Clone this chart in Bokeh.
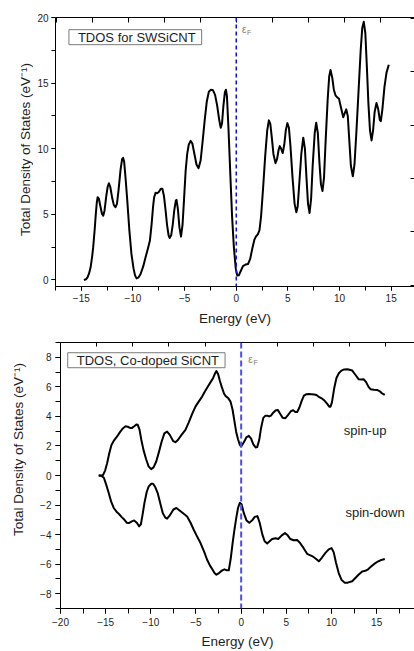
import math
from bokeh.plotting import figure
from bokeh.models import (Range1d, LinearAxis, SingleIntervalTicker, Span, Label)
from bokeh.layouts import column, row
from bokeh.embed import file_html
from bokeh.resources import INLINE

FONT = "Liberation Sans"
TXT = "#1e1e1e"

# ---------------- data: TDOS for SWSiCNT ----------------
sw_energy = [-14.75, -14.55, -14.4, -14.25, -14.1, -13.95, -13.85, -13.7, -13.6, -13.5,
             -13.42, -13.3, -13.15, -13.0, -12.88, -12.75, -12.6, -12.45, -12.33, -12.2,
             -12.0, -11.85, -11.7, -11.55, -11.4, -11.2, -11.05, -10.95, -10.85, -10.7,
             -10.55, -10.35, -10.15, -9.95, -9.8, -9.65, -9.45, -9.26, -9.0, -8.78,
             -8.55, -8.36, -8.2, -8.05, -7.95, -7.8, -7.65, -7.5, -7.3, -7.15,
             -7.0, -6.84, -6.7, -6.55, -6.45, -6.3, -6.15, -6.0, -5.85, -5.78,
             -5.65, -5.5, -5.35, -5.2, -5.05, -4.9, -4.75, -4.6, -4.42, -4.25,
             -4.05, -3.85, -3.65, -3.45, -3.25, -3.05, -2.85, -2.65, -2.45, -2.25,
             -2.05, -1.85, -1.65, -1.5, -1.38, -1.25, -1.1, -1.0, -0.9, -0.75,
             -0.55, -0.4, -0.23, -0.05, 0.1, 0.25, 0.45, 0.65, 0.9, 1.15,
             1.35, 1.55, 1.75, 1.9, 2.1, 2.25, 2.4, 2.6, 2.8, 3.0,
             3.16, 3.3, 3.45, 3.6, 3.8, 3.95, 4.1, 4.22, 4.35, 4.5,
             4.65, 4.8, 4.95, 5.1, 5.25, 5.45, 5.65, 5.82, 5.95, 6.1,
             6.3, 6.49, 6.65, 6.8, 6.95, 7.1, 7.25, 7.4, 7.6, 7.74,
             7.9, 8.05, 8.2, 8.35, 8.5, 8.65, 8.85, 9.0, 9.13, 9.3,
             9.45, 9.61, 9.8, 9.95, 10.15, 10.36, 10.5, 10.65, 10.8, 10.95,
             11.1, 11.29, 11.45, 11.65, 11.85, 12.05, 12.2, 12.35, 12.5, 12.65,
             12.8, 12.95, 13.1, 13.25, 13.4, 13.58, 13.75, 13.9, 14.0, 14.15,
             14.35, 14.55, 14.77]
sw_tdos = [0.0, 0.05, 0.2, 0.5, 0.96, 1.8, 2.5, 3.9, 5.0, 5.9,
           6.3, 6.2, 5.6, 5.05, 4.9, 5.3, 6.3, 7.1, 7.37, 7.1,
           6.2, 5.7, 5.54, 5.8, 6.8, 8.4, 9.2, 9.3, 9.0, 7.6,
           6.05, 3.8, 2.0, 0.9, 0.35, 0.12, 0.2, 0.45, 1.05, 1.72,
           2.4, 3.0, 4.2, 5.6, 6.3, 6.65, 6.6, 6.7, 6.95, 6.95,
           6.4, 5.3, 4.2, 3.4, 3.2, 3.4, 4.2, 5.3, 6.05, 6.1,
           5.4, 4.0, 3.3, 4.2, 6.2, 8.3, 9.6, 10.3, 10.6, 10.4,
           9.6, 8.8, 8.52, 9.1, 10.6, 12.2, 13.6, 14.35, 14.5, 14.45,
           14.1, 13.3, 12.2, 11.6, 11.9, 13.2, 14.3, 14.5, 14.0, 11.5,
           7.6, 4.8, 2.5, 0.9, 0.33, 0.35, 0.7, 1.05, 1.17, 1.22,
           1.6, 2.37, 3.05, 3.3, 3.5, 3.8, 4.8, 7.0, 9.4, 11.4,
           12.16, 11.9, 10.8, 9.6, 8.9, 9.2, 9.9, 10.2, 10.0, 9.67,
           10.3, 11.4, 11.95, 11.6, 10.2, 7.8, 5.8, 5.16, 5.6, 7.3,
           9.6, 10.84, 10.0, 7.8, 5.8, 5.1, 6.2, 8.7, 11.2, 11.98,
           11.2, 9.0, 7.3, 6.77, 7.8, 10.5, 13.7, 15.5, 16.0, 15.4,
           14.5, 14.07, 13.9, 13.8, 13.1, 12.4, 12.7, 13.0, 12.5, 10.6,
           8.7, 7.9, 8.8, 11.5, 14.5, 17.5, 19.2, 19.67, 18.8, 16.2,
           13.4, 11.4, 10.63, 11.4, 12.8, 13.48, 13.0, 12.2, 12.1, 13.0,
           14.7, 15.8, 16.4]

# ---------------- data: TDOS, Co-doped SiCNT ----------------
up_energy = [-15.77, -15.5, -15.3, -15.05, -14.84, -14.6, -14.36, -14.05, -13.73, -13.4,
             -13.07, -12.8, -12.56, -12.3, -12.08, -11.8, -11.6, -11.45, -11.25, -11.05,
             -10.8, -10.52, -10.25, -9.97, -9.7, -9.4, -9.1, -8.8, -8.5, -8.2,
             -7.9, -7.55, -7.28, -7.0, -6.6, -6.17, -5.8, -5.4, -5.06, -4.7,
             -4.32, -4.0, -3.7, -3.4, -3.1, -2.9, -2.74, -2.55, -2.35, -2.15,
             -1.9, -1.74, -1.45, -1.18, -0.95, -0.75, -0.55, -0.35, -0.15, 0.0,
             0.3, 0.6, 0.85, 1.1, 1.35, 1.6, 1.77, 2.0, 2.2, 2.45,
             2.69, 2.9, 3.1, 3.3, 3.55, 3.8, 4.05, 4.3, 4.6, 4.9,
             5.2, 5.5, 5.76, 6.0, 6.2, 6.45, 6.7, 6.95, 7.23, 7.5,
             7.8, 8.1, 8.34, 8.65, 8.97, 9.25, 9.53, 9.75, 9.89, 10.05,
             10.3, 10.55, 10.81, 11.1, 11.4, 11.74, 12.0, 12.3, 12.6, 13.02,
             13.3, 13.58, 13.85, 14.1, 14.32, 14.7, 15.06, 15.35, 15.6, 15.9]
up_tdos = [0.0, 0.0, 0.02, 0.35, 0.83, 1.5, 2.07, 2.4, 2.64, 2.95,
           3.2, 3.33, 3.3, 3.22, 3.22, 3.35, 3.45, 3.43, 3.1, 2.4,
           1.7, 1.1, 0.62, 0.43, 0.55, 0.95, 1.6, 2.3, 2.85, 2.97,
           2.75, 2.35, 2.25, 2.4, 2.75, 3.09, 3.6, 4.2, 4.66, 5.0,
           5.34, 5.7, 6.01, 6.3, 6.6, 6.9, 7.07, 6.85, 6.4, 6.0,
           5.55, 5.39, 5.25, 5.0, 4.45, 3.7, 2.95, 2.45, 2.08, 1.96,
           2.25, 2.6, 2.68, 2.5, 2.1, 1.9, 1.92, 2.4, 3.2, 3.9,
           4.05, 4.05, 4.0, 4.05, 4.25, 4.4, 4.44, 4.2, 3.9, 3.88,
           4.1, 4.35, 4.42, 4.3, 4.3, 4.6, 5.05, 5.4, 5.5, 5.52,
           5.5, 5.48, 5.45, 5.3, 5.2, 5.05, 4.85, 4.66, 4.66, 4.95,
           5.9, 6.6, 6.92, 7.1, 7.18, 7.19, 7.15, 7.1, 6.85, 6.51,
           6.5, 6.51, 6.3, 6.0, 5.84, 5.8, 5.79, 5.7, 5.55, 5.45]

down_energy = [-15.77, -15.5, -15.2, -14.95, -14.66, -14.4, -14.1, -13.8, -13.55, -13.25,
               -12.92, -12.65, -12.44, -12.1, -11.85, -11.55, -11.3, -11.1, -10.9, -10.71,
               -10.45, -10.23, -9.95, -9.75, -9.5, -9.24, -8.95, -8.68, -8.4, -8.2,
               -7.9, -7.5, -7.17, -6.85, -6.53, -5.98, -5.6, -5.25, -4.9, -4.5,
               -4.1, -3.77, -3.45, -3.21, -2.95, -2.74, -2.45, -2.1, -1.84, -1.6,
               -1.37, -1.15, -0.95, -0.75, -0.55, -0.35, -0.15, 0.05, 0.3, 0.6,
               0.9, 1.2, 1.5, 1.8, 2.05, 2.35, 2.6, 2.88, 3.15, 3.43,
               3.8, 4.1, 4.5, 4.85, 5.15, 5.45, 5.8, 6.2, 6.5, 6.9,
               7.3, 7.85, 8.2, 8.6, 8.95, 9.33, 9.7, 10.0, 10.25, 10.5,
               10.8, 11.1, 11.45, 11.8, 12.29, 12.7, 13.02, 13.4, 13.75, 14.05,
               14.4, 14.7, 15.05, 15.42, 15.9]
down_tdos = [0.0, -0.02, -0.15, -0.6, -1.19, -1.75, -2.2, -2.45, -2.59, -2.8,
             -3.0, -3.2, -3.22, -3.1, -3.04, -3.2, -3.44, -3.3, -2.6, -1.87,
             -1.1, -0.74, -0.56, -0.56, -0.8, -1.19, -1.9, -2.54, -2.85, -2.92,
             -2.7, -2.3, -2.2, -2.35, -2.5, -2.77, -3.2, -3.67, -4.1, -4.57,
             -5.15, -5.7, -6.1, -6.33, -6.6, -6.71, -6.6, -6.42, -6.35, -6.42,
             -6.42, -5.6, -4.6, -3.7, -2.9, -2.2, -1.85, -1.95, -2.55, -3.05,
             -3.2, -3.05, -2.8, -2.75, -3.2, -4.0, -4.45, -4.6, -4.45, -4.3,
             -4.25, -4.3, -4.05, -3.9, -4.05, -4.3, -4.38, -4.37, -4.55, -4.9,
             -5.3, -5.45, -5.6, -5.81, -5.55, -5.24, -5.0, -4.91, -5.2, -5.9,
             -6.6, -7.05, -7.25, -7.25, -7.16, -6.9, -6.7, -6.49, -6.45, -6.35,
             -6.15, -6.0, -5.85, -5.74, -5.65]

fermi_level = 0.0
title_top = "TDOS for SWSiCNT"
title_bottom = "TDOS, Co-doped SiCNT"
x_title = "Energy (eV)"
y_title = "Total Density of States (eV\u207b\u00b9)"

STRIP_W = 33  # width of the strip that carries each vertical y-axis title


def style_main_axes(p, tick_len, lab_standoff, xlab_standoff):
    for ax in (p.xaxis[0], p.yaxis[0]):
        ax.axis_line_color = "black"
        ax.axis_line_width = 1
        ax.major_tick_line_color = "black"
        ax.minor_tick_line_color = "black"
        ax.major_tick_in = 0
        ax.major_tick_out = tick_len
        ax.minor_tick_in = 0
        ax.minor_tick_out = tick_len
        ax.major_label_text_font = FONT
        ax.major_label_text_font_size = "10px"
        ax.major_label_text_color = TXT
        ax.major_label_standoff = lab_standoff
        ax.axis_label_text_font = FONT
        ax.axis_label_text_font_style = "normal"
        ax.axis_label_text_font_size = "13.5px"
        ax.axis_label_text_color = TXT
    p.xaxis[0].axis_label_standoff = xlab_standoff
    p.xgrid.visible = False
    p.ygrid.visible = False
    p.outline_line_color = None


def tick_only_axis(ax, tick_in):
    ax.axis_line_color = "black"
    ax.major_tick_line_color = "black"
    ax.major_tick_in = tick_in
    ax.major_tick_out = 0
    ax.minor_tick_line_color = None
    ax.major_label_text_color = None
    ax.major_label_text_font_size = "0px"
    ax.major_label_standoff = 0
    ax.axis_label = None


def title_strip(height, cx, cy_from_top):
    s = figure(width=STRIP_W, height=height, x_range=Range1d(0, STRIP_W),
               y_range=Range1d(0, height), x_axis_type=None, y_axis_type=None,
               output_backend="svg", toolbar_location=None, min_border=0)
    s.outline_line_color = None
    s.add_layout(Label(x=cx, y=height - cy_from_top, text=y_title, angle=math.pi / 2,
                       text_font=FONT, text_font_size="13.5px", text_color=TXT,
                       text_align="center", text_baseline="middle"))
    return s


# ---------------- figure 1 ----------------
H1 = 328
p1 = figure(width=414 - STRIP_W, height=H1, x_range=Range1d(-17.5, 17.26), y_range=Range1d(-0.5, 20),
            output_backend="svg", toolbar_location=None,
            min_border_left=55 - STRIP_W, min_border_right=0, min_border_top=17, min_border_bottom=42)
p1.xaxis[0].ticker = SingleIntervalTicker(interval=5, num_minor_ticks=2)
p1.yaxis[0].ticker = SingleIntervalTicker(interval=5, num_minor_ticks=2)
p1.xaxis[0].axis_label = x_title
style_main_axes(p1, 4, 3, 6)

p1.extra_x_ranges = {"top": Range1d(-17.5 / 3.485, 17.26 / 3.485)}
p1.extra_y_ranges = {"right": Range1d(-0.022, 5.015)}
ax_top1 = LinearAxis(x_range_name="top", ticker=SingleIntervalTicker(interval=1, num_minor_ticks=0))
tick_only_axis(ax_top1, 5)
p1.add_layout(ax_top1, "above")
ax_r1 = LinearAxis(y_range_name="right", ticker=SingleIntervalTicker(interval=1, num_minor_ticks=0))
tick_only_axis(ax_r1, 4)
ax_r1.axis_line_color = None
p1.add_layout(ax_r1, "right")

p1.add_layout(Span(location=fermi_level, dimension="height", line_color="#1414d8",
                   line_width=1.5, line_dash="4 3"))
p1.line(sw_energy, sw_tdos, line_color="black", line_width=2, line_join="round")

p1.add_layout(Label(x=-16.2, y=18.5, text=title_top, text_font=FONT, text_font_size="13px",
                    text_color=TXT, text_baseline="middle", text_align="left",
                    border_line_color="#7a7a7a", border_line_width=1,
                    background_fill_color="white",
                    padding=dict(left=9, right=6, top=0, bottom=0)))
p1.add_layout(Label(x=0.55, y=19.1, text="\u03b5", text_font=FONT, text_font_size="10px",
                    text_color="#8a7868", text_baseline="middle", text_align="left"))
p1.add_layout(Label(x=1.05, y=18.82, text="F", text_font=FONT, text_font_size="7px",
                    text_color="#8a7868", text_baseline="middle", text_align="left"))

s1 = title_strip(H1, 25, 161)

# ---------------- figure 2 ----------------
H2 = 323
p2 = figure(width=414 - STRIP_W, height=H2, x_range=Range1d(-20, 19.19), y_range=Range1d(-9, 9),
            output_backend="svg", toolbar_location=None,
            min_border_left=60 - STRIP_W, min_border_right=0, min_border_top=14, min_border_bottom=42)
p2.xaxis[0].ticker = SingleIntervalTicker(interval=5, num_minor_ticks=2)
p2.yaxis[0].ticker = SingleIntervalTicker(interval=2, num_minor_ticks=2)
p2.xaxis[0].axis_label = x_title
style_main_axes(p2, 5, 4, 5)

ax_top2 = LinearAxis(ticker=SingleIntervalTicker(interval=4, num_minor_ticks=0))
tick_only_axis(ax_top2, 4)
p2.add_layout(ax_top2, "above")

p2.add_layout(Span(location=fermi_level, dimension="height", line_color="#4c4cff",
                   line_width=2, line_dash="6 3"))
p2.line(up_energy, up_tdos, line_color="black", line_width=2, line_join="round")
p2.line(down_energy, down_tdos, line_color="black", line_width=2, line_join="round")

p2.add_layout(Label(x=-19.2, y=7.8, text=title_bottom, text_font=FONT, text_font_size="13px",
                    text_color=TXT, text_baseline="middle", text_align="left",
                    border_line_color="#7a7a7a", border_line_width=1,
                    background_fill_color="white",
                    padding=dict(left=9, right=6, top=0, bottom=0)))
p2.add_layout(Label(x=0.78, y=7.88, text="\u03b5", text_font=FONT, text_font_size="10px",
                    text_color="#8a7868", text_baseline="middle", text_align="left"))
p2.add_layout(Label(x=1.38, y=7.62, text="F", text_font=FONT, text_font_size="7px",
                    text_color="#8a7868", text_baseline="middle", text_align="left"))
p2.add_layout(Label(x=11.36, y=3.04, text="spin-up", text_font=FONT, text_font_size="13px",
                    text_color=TXT, text_baseline="middle", text_align="left"))
p2.add_layout(Label(x=11.54, y=-2.5, text="spin-down", text_font=FONT, text_font_size="13px",
                    text_color=TXT, text_baseline="middle", text_align="left"))

s2 = title_strip(H2, 18.3, 458 - H1)

layout = column(row(s1, p1, spacing=0), row(s2, p2, spacing=0), spacing=0)
open("out.html", "w").write(file_html(layout, INLINE))
